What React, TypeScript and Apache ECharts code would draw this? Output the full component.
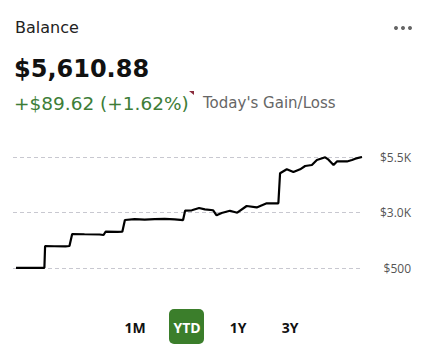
import React, { useEffect, useRef } from "react";
import * as echarts from "echarts";

// x positions are trading-day index (uniform spacing), values in USD
const days = [0, 28.3, 29, 38.3, 49.3, 53.3, 56, 68.3, 83.3, 87.3, 89.3, 101.3, 106, 108.6, 118.3, 128.3, 138.3, 148.3, 158.3, 166.6, 168.6, 175.3, 182.6, 188.3, 196.6, 200, 205, 213.3, 220.6, 230, 240, 250, 261.6, 263.3, 270, 276.6, 283.3, 288.3, 295, 300, 308.3, 311.6, 316.6, 320, 330, 335, 338.3, 345];
const balances = [510, 510, 1491, 1480, 1470, 1490, 2031, 2020, 2010, 1985, 2135, 2130, 2135, 2662, 2700, 2680, 2700, 2710, 2690, 2660, 3081, 3100, 3203, 3140, 3100, 2874, 2980, 3080, 2990, 3293, 3230, 3414, 3414, 4766, 4946, 4820, 4946, 5095, 5140, 5365, 5486, 5380, 5140, 5300, 5300, 5365, 5425, 5500];
const yTicks = [500, 3000, 5500];
const periods = ["1M", "YTD", "1Y", "3Y"];
const periodX = [135, 187, 238, 290];
const selected = "YTD";

const FONT = "'DejaVu Sans', sans-serif";
const BTN_FONT = "'Open Sans', sans-serif";

export default function App() {
  const ref = useRef<HTMLDivElement>(null);
  useEffect(() => {
    const chart = echarts.init(ref.current!, null, { renderer: "svg" });
    const fmt = (v: number) => (v >= 1000 ? "$" + (v / 1000).toFixed(1) + "K" : "$" + v);
    const mid = "middle";
    const graphic: any[] = [
      { type: "text", x: 15, y: 27, style: { text: "Balance", font: `16px ${FONT}`, fill: "#222", verticalAlign: mid } },
      { type: "circle", shape: { cx: 396, cy: 28, r: 2 }, style: { fill: "#666" } },
      { type: "circle", shape: { cx: 403, cy: 28, r: 2 }, style: { fill: "#666" } },
      { type: "circle", shape: { cx: 410, cy: 28, r: 2 }, style: { fill: "#666" } },
      { type: "text", x: 14, y: 69, style: { text: "$5,610.88", font: `bold 24px ${FONT}`, fill: "#111", verticalAlign: mid } },
      { type: "text", x: 14, y: 103.5, style: { text: "+$89.62 (+1.62%)", font: `18.5px ${FONT}`, fill: "#3d7d37", verticalAlign: mid } },
      { type: "polygon", shape: { points: [[189, 91], [194, 91], [194, 95]] }, style: { fill: "#8a2c3c" } },
      { type: "text", x: 203, y: 103, style: { text: "Today's Gain/Loss", font: `15px ${FONT}`, fill: "#666", verticalAlign: mid } },
      { type: "rect", shape: { x: 169, y: 309, width: 35, height: 35, r: 5 }, style: { fill: "#3b7e2b" } },
    ];
    periods.forEach((p, i) => {
      graphic.push({
        type: "text",
        x: periodX[i],
        y: 327,
        style: {
          text: p,
          font: `bold 14px ${BTN_FONT}`,
          fill: p === selected ? "#fff" : "#111",
          align: "center",
          verticalAlign: "middle",
        },
      });
    });
    chart.setOption({
      animation: false,
      grid: { left: 13, right: 62, top: 157, bottom: 90 },
      xAxis: {
        type: "value",
        min: -3,
        max: 345,
        show: false,
      },
      yAxis: {
        type: "value",
        position: "right",
        min: 500,
        max: 5500,
        interval: 2500,
        axisLine: { show: false },
        axisTick: { show: false },
        axisLabel: {
          formatter: (v: number) => (yTicks.includes(v) ? fmt(v) : ""),
          align: "right",
          margin: 49,
          color: "#555",
          fontSize: 12,
          fontFamily: "'Open Sans', sans-serif",
        },
        splitLine: { lineStyle: { type: [4, 3], color: "#c8c8d0", width: 1 } },
      },
      series: [
        {
          type: "line",
          data: days.map((d, i) => [d, balances[i]]),
          showSymbol: false,
          lineStyle: { color: "#000", width: 2.2 },
          z: 3,
        },
      ],
      graphic,
    });
    return () => chart.dispose();
  }, []);
  return <div ref={ref} style={{ position: "fixed", left: 0, top: 0, width: 424, height: 358, background: "#fff" }} />;
}
